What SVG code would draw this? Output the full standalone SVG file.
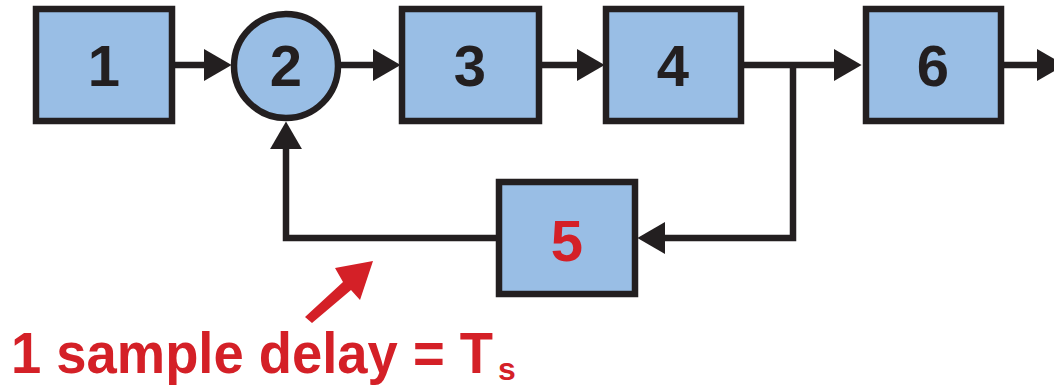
<svg xmlns="http://www.w3.org/2000/svg" width="1054" height="385" viewBox="0 0 1054 385">
  <style>
    .blk { fill: #99BEE5; stroke: #231F20; stroke-width: 6.5; }
    .num { font-family: "Liberation Sans", Arial, sans-serif; font-weight: bold; font-size: 58px; fill: #231F20; text-anchor: middle; }
    .red { fill: #D42027; }
    .wire { fill: none; stroke: #231F20; stroke-width: 6.5; marker-end: url(#head); }
    .note { font-family: "Liberation Sans", Arial, sans-serif; font-weight: bold; fill: #D42027; }
  </style>
  <defs>
    <marker id="head" markerUnits="userSpaceOnUse" markerWidth="30" markerHeight="34" viewBox="0 -16 28 32" refX="0" refY="0" orient="auto">
      <path d="M0,-15 L26,0 L0,15 Z" fill="#231F20"/>
    </marker>
  </defs>

  <rect width="1054" height="385" fill="#FFFFFF"/>

  <!-- signal flow -->
  <g id="connectors">
    <path class="wire" d="M175,65 H204"/>
    <path class="wire" d="M341,65 H373"/>
    <path class="wire" d="M542,65 H577"/>
    <path class="wire" d="M744,65 H834"/>
    <path class="wire" d="M1004,65 H1037"/>
    <path class="wire" d="M793,65 V238 H665"/>
    <path class="wire" d="M496,238 H286 V149"/>
  </g>

  <g id="node-1">
    <rect class="blk" x="36" y="9" width="136" height="112"/>
    <text class="num" x="104" y="86">1</text>
  </g>
  <g id="node-2">
    <circle class="blk" cx="286" cy="66" r="52"/>
    <text class="num" x="286" y="86">2</text>
  </g>
  <g id="node-3">
    <rect class="blk" x="402" y="9" width="137" height="112"/>
    <text class="num" x="470" y="86">3</text>
  </g>
  <g id="node-4">
    <rect class="blk" x="606" y="9" width="135" height="112"/>
    <text class="num" x="673" y="86">4</text>
  </g>
  <g id="node-6">
    <rect class="blk" x="866" y="9" width="135" height="112"/>
    <text class="num" x="933" y="86">6</text>
  </g>
  <g id="node-5">
    <rect class="blk" x="499" y="182" width="136" height="112"/>
    <text class="num red" x="567" y="261">5</text>
  </g>

  <!-- delay annotation -->
  <g id="annotation">
    <polygon class="red" points="305,317 343,282 335,268 373,261 360,300 351,290 312,323"/>
    <text class="note" x="11" y="373" font-size="57"><tspan textLength="482" lengthAdjust="spacingAndGlyphs">1 sample delay = T</tspan><tspan x="498" y="380" font-size="32">s</tspan></text>
  </g>
</svg>
